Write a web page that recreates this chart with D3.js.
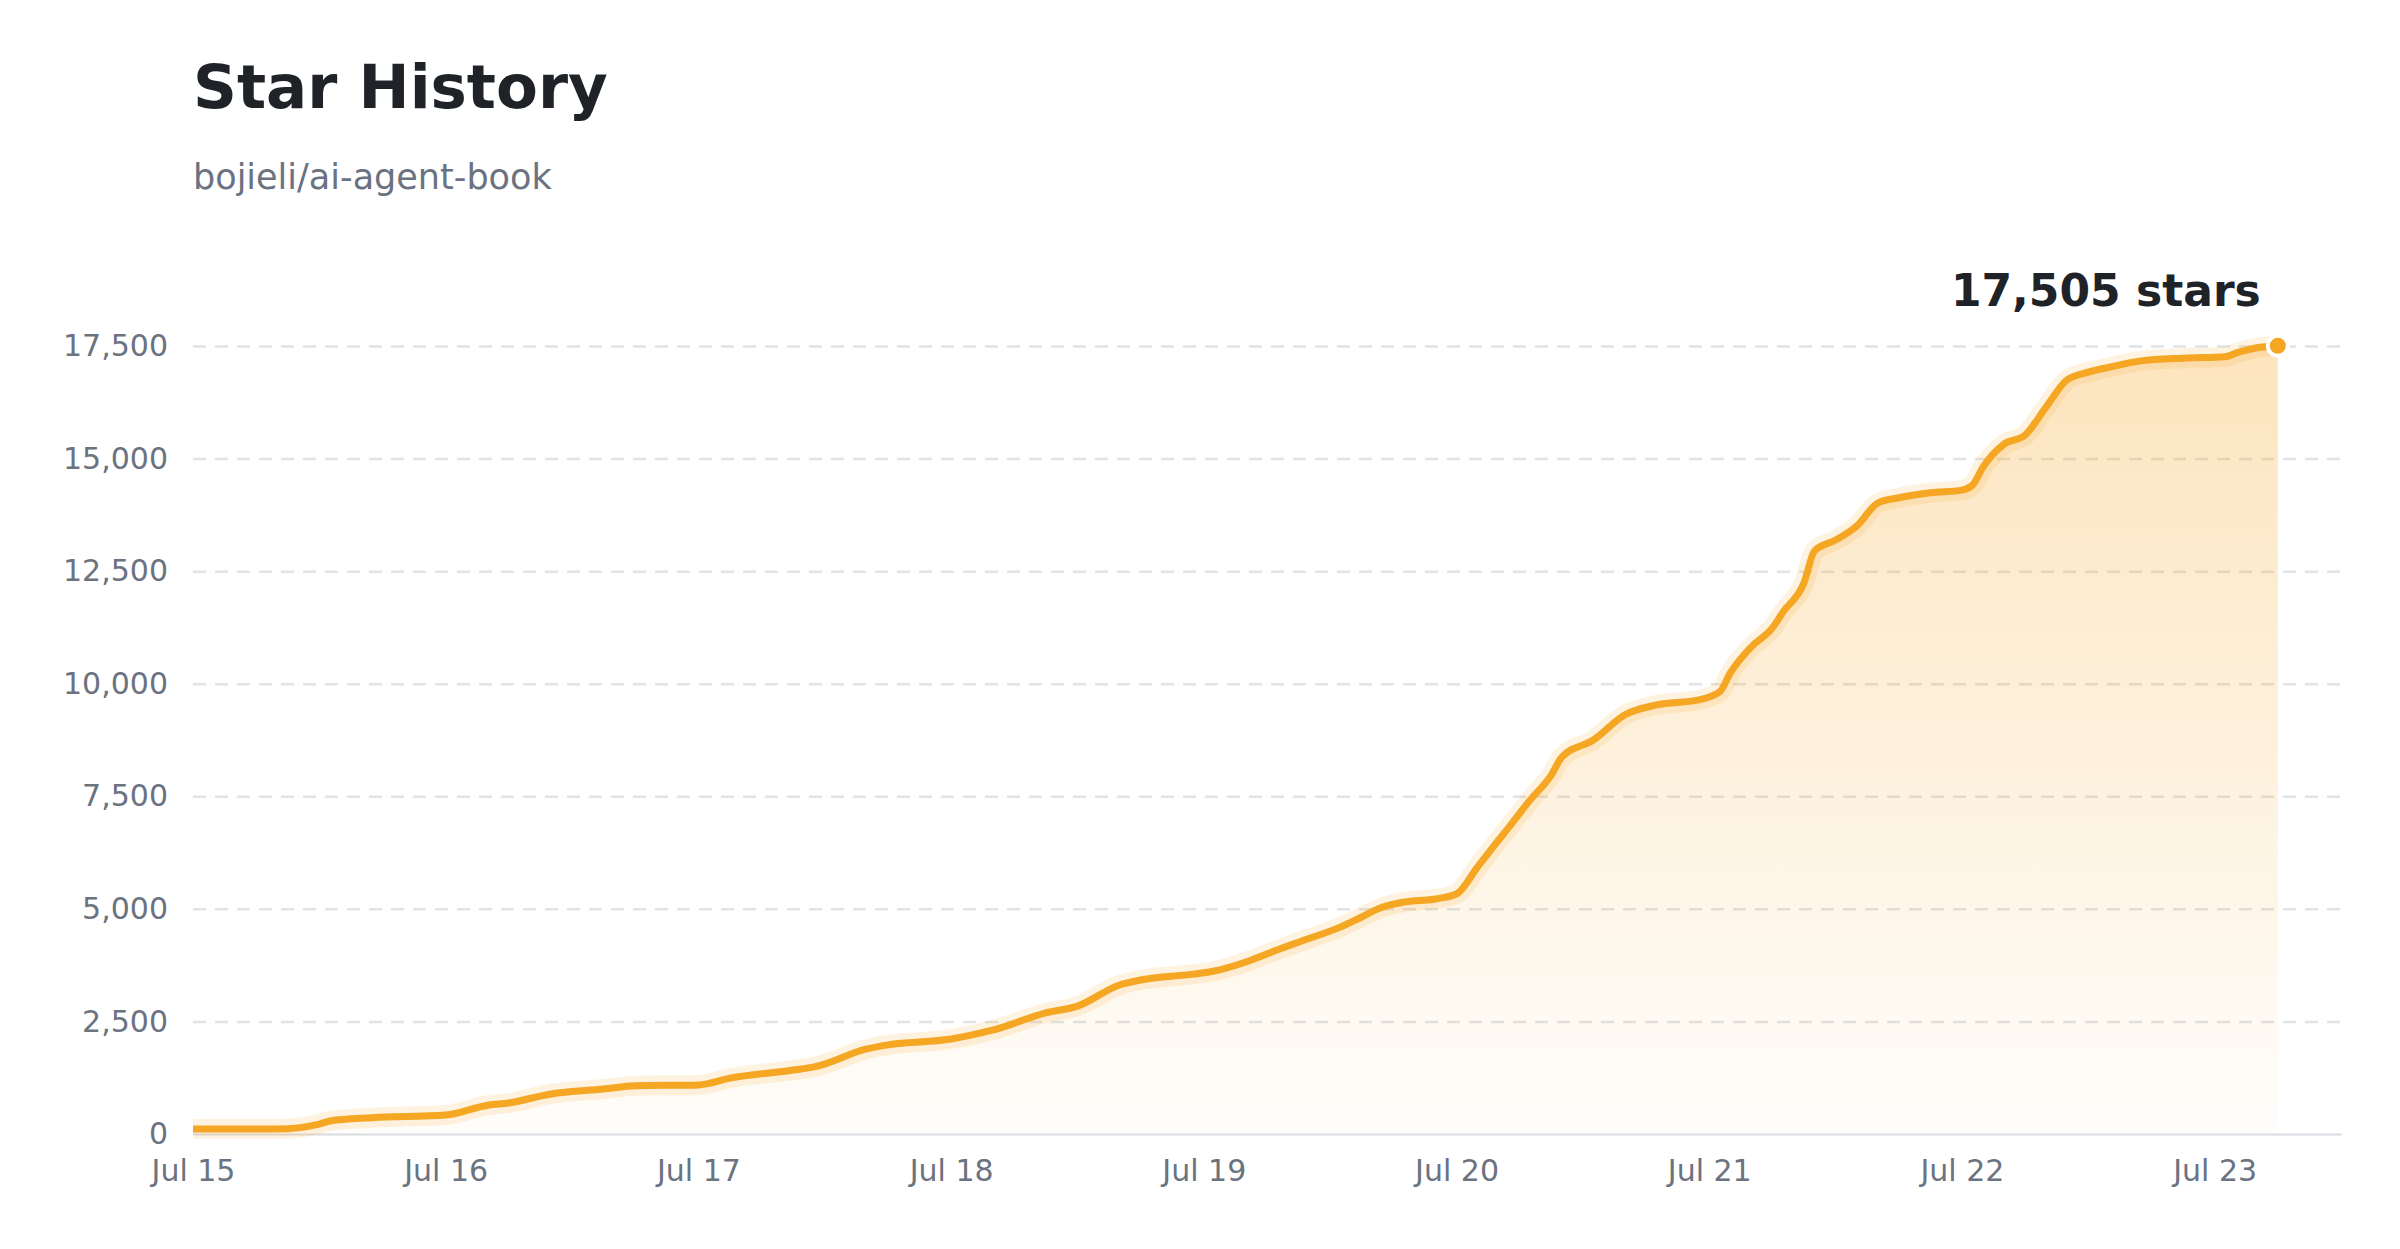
<!DOCTYPE html>
<html lang="en">
<head>
<meta charset="UTF-8">
<title>Star History</title>
<style>
  html, body { margin: 0; padding: 0; background: #ffffff; }
  svg { display: block; font-family: "DejaVu Sans", sans-serif; }
</style>
</head>
<body>
<div id="chart"></div>
<script src="https://d3js.org/d3.v7.min.js"></script>
<script>
// star counts
const dates = [
  "2025-07-15 00:00", "2025-07-15 08:00", "2025-07-15 12:00", "2025-07-15 13:00", "2025-07-15 17:00",
  "2025-07-16 00:00", "2025-07-16 04:00", "2025-07-16 06:00", "2025-07-16 10:00", "2025-07-16 15:00",
  "2025-07-16 18:00", "2025-07-17 00:00", "2025-07-17 03:00", "2025-07-17 09:00", "2025-07-17 11:00",
  "2025-07-17 16:00", "2025-07-17 18:00", "2025-07-18 00:00", "2025-07-18 02:00", "2025-07-18 04:00",
  "2025-07-18 09:00", "2025-07-18 12:00", "2025-07-18 16:00", "2025-07-18 18:00", "2025-07-18 23:00",
  "2025-07-19 01:00", "2025-07-19 04:00", "2025-07-19 07:00", "2025-07-19 09:00", "2025-07-19 13:00",
  "2025-07-19 15:00", "2025-07-19 17:00", "2025-07-19 19:00", "2025-07-19 22:00", "2025-07-20 00:00",
  "2025-07-20 02:00", "2025-07-20 04:00", "2025-07-20 05:00", "2025-07-20 07:00", "2025-07-20 09:00",
  "2025-07-20 10:00", "2025-07-20 13:00", "2025-07-20 16:00", "2025-07-20 19:00", "2025-07-20 23:00",
  "2025-07-21 01:00", "2025-07-21 02:00", "2025-07-21 04:00", "2025-07-21 06:00", "2025-07-21 07:00",
  "2025-07-21 09:00", "2025-07-21 10:00", "2025-07-21 12:00", "2025-07-21 14:00", "2025-07-21 16:00",
  "2025-07-21 18:00", "2025-07-21 21:00", "2025-07-22 00:00", "2025-07-22 01:00", "2025-07-22 02:00",
  "2025-07-22 04:00", "2025-07-22 06:00", "2025-07-22 08:00", "2025-07-22 10:00", "2025-07-22 12:00",
  "2025-07-22 14:00", "2025-07-22 17:00", "2025-07-22 21:00", "2025-07-23 01:00", "2025-07-23 02:00",
  "2025-07-23 04:00", "2025-07-23 06:00"
];
const stars = [
  110, 110, 220, 290, 360,
  420, 640, 690, 890, 1000,
  1070, 1090, 1240, 1420, 1490,
  1890, 1980, 2110, 2200, 2310,
  2690, 2840, 3310, 3420, 3550,
  3620, 3820, 4090, 4260, 4600,
  4820, 5040, 5150, 5220, 5330,
  5930, 6530, 6820, 7420, 7970,
  8370, 8750, 9310, 9530, 9640,
  9820, 10240, 10820, 11240, 11590,
  12240, 12950, 13190, 13500, 14010,
  14130, 14240, 14300, 14410, 14810,
  15320, 15520, 16150, 16750, 16920,
  17030, 17170, 17230, 17260, 17340,
  17460, 17505
];
const xTickLabels = ["2025-07-15", "2025-07-16", "2025-07-17", "2025-07-18", "2025-07-19",
                     "2025-07-20", "2025-07-21", "2025-07-22", "2025-07-23"];
const yTicks = [0, 2500, 5000, 7500, 10000, 12500, 15000, 17500];
const xStart = "2025-07-15 00:00";
const xEnd = "2025-07-23 12:00";

const title = "Star History";
const repo = "bojieli/ai-agent-book";

const W = 2400, H = 1249;
const margin = { top: 346, right: 59, bottom: 115, left: 193 };
const width = W - margin.left - margin.right;
const height = H - margin.top - margin.bottom;

const parseTime = d3.timeParse("%Y-%m-%d %H:%M");
const parseDay = d3.timeParse("%Y-%m-%d");
const data = dates.map((d, i) => ({ date: parseTime(d), value: stars[i] }));

const orange = "#f5a623";

const svg = d3.select("#chart").append("svg")
  .attr("width", W)
  .attr("height", H);

const defs = svg.append("defs");
const grad = defs.append("linearGradient")
  .attr("id", "areaFill")
  .attr("x1", 0).attr("y1", 0).attr("x2", 0).attr("y2", 1);
grad.append("stop").attr("offset", "0%").attr("stop-color", orange).attr("stop-opacity", 0.3);
grad.append("stop").attr("offset", "100%").attr("stop-color", orange).attr("stop-opacity", 0.02);

// header
svg.append("text")
  .attr("x", margin.left)
  .attr("y", 108)
  .attr("font-size", 61)
  .attr("font-weight", "bold")
  .attr("fill", "#1f2328")
  .text(title);

svg.append("text")
  .attr("x", margin.left)
  .attr("y", 189)
  .attr("font-size", 35)
  .attr("fill", "#6b7280")
  .text(repo);

const g = svg.append("g")
  .attr("transform", `translate(${margin.left},${margin.top})`);

const x = d3.scaleTime()
  .domain([parseTime(xStart), parseTime(xEnd)])
  .range([0, width]);

const y = d3.scaleLinear()
  .domain([0, 17500])
  .range([height, 0]);

// gridlines
const grid = g.append("g")
  .call(d3.axisLeft(y).tickValues(yTicks.filter(d => d > 0)).tickSize(-width).tickFormat(""));
grid.select(".domain").remove();
grid.selectAll("line")
  .attr("stroke", "#e0e3e8")
  .attr("stroke-width", 2.5)
  .attr("stroke-dasharray", "13,9");

// y axis labels
const yAxis = g.append("g")
  .call(d3.axisLeft(y).tickValues(yTicks).tickSize(0).tickPadding(25).tickFormat(d3.format(",")));
yAxis.select(".domain").remove();
yAxis.selectAll("text")
  .attr("font-family", "DejaVu Sans, sans-serif")
  .attr("font-size", 30)
  .attr("fill", "#6b7280");

// x axis
const xAxis = g.append("g")
  .attr("transform", `translate(0,${height})`)
  .call(d3.axisBottom(x)
    .tickValues(xTickLabels.map(parseDay))
    .tickSize(0)
    .tickPadding(26)
    .tickFormat(d3.timeFormat("%b %d")));
xAxis.select(".domain")
  .attr("stroke", "#d9dce1")
  .attr("stroke-width", 2);
xAxis.selectAll("text")
  .attr("font-family", "DejaVu Sans, sans-serif")
  .attr("font-size", 30)
  .attr("fill", "#6b7280");

// area + line
const area = d3.area()
  .x(d => x(d.date))
  .y0(y(0))
  .y1(d => y(d.value))
  .curve(d3.curveMonotoneX);

const line = d3.line()
  .x(d => x(d.date))
  .y(d => y(d.value))
  .curve(d3.curveMonotoneX);

g.append("path")
  .datum(data)
  .attr("d", area)
  .attr("fill", "url(#areaFill)");

g.append("path")
  .datum(data)
  .attr("d", line)
  .attr("fill", "none")
  .attr("stroke", orange)
  .attr("stroke-opacity", 0.14)
  .attr("stroke-width", 20)
  .attr("stroke-linejoin", "round");

g.append("path")
  .datum(data)
  .attr("d", line)
  .attr("fill", "none")
  .attr("stroke", orange)
  .attr("stroke-width", 7)
  .attr("stroke-linejoin", "round");

// last point + label
const last = data[data.length - 1];
g.append("circle")
  .attr("cx", x(last.date))
  .attr("cy", y(last.value))
  .attr("r", 10)
  .attr("fill", orange)
  .attr("stroke", "#ffffff")
  .attr("stroke-width", 4);

g.append("text")
  .attr("x", x(last.date) - 17)
  .attr("y", y(last.value) - 40)
  .attr("text-anchor", "end")
  .attr("font-size", 44)
  .attr("font-weight", "bold")
  .attr("fill", "#1f2328")
  .text(d3.format(",")(last.value) + " stars");
</script>
</body>
</html>
